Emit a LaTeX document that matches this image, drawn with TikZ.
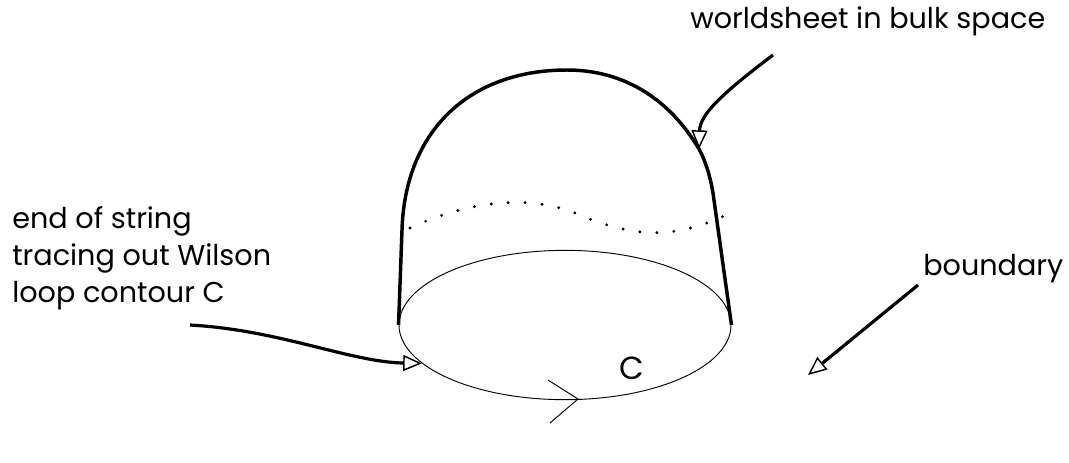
\documentclass[tikz,border=0pt]{standalone}
\usepackage{fontspec}
\setmainfont{Poppins}
\usetikzlibrary{arrows.meta,shapes.geometric,positioning}

\begin{document}
\begin{tikzpicture}[x=0.75pt,y=-0.75pt,
    txt/.style={font=\fontsize{21.5}{27.75}\selectfont, inner sep=0pt},
    sheet/.style={line width=2.6pt},
    pointer/.style={line width=2.4pt, -{Triangle[open,length=14pt,width=12pt,line width=1.1pt]}}]
    \useasboundingbox (0,0) rectangle (1069,462);

    % boundary loop C
    \node[draw, ellipse, line width=0.7pt, minimum width=249pt, minimum height=112pt, inner sep=0pt] (loop) at (565,325) {};
    \coordinate (tip) at (578,399);
    \draw[line width=0.7pt] (tip) ++(-30,-19) -- (tip) -- ++(-28,24);
    \node[font=\fontsize{24}{28}\selectfont, inner sep=0pt] (cname) at (632,368) {C};

    % worldsheet
    \coordinate (ws) at (699,149);
    \draw[sheet] (loop.west) -- (402,230) .. controls (405,130) and (470,70) .. (567,70)
        .. controls (625,70) and (670,100) .. (ws)
        .. controls (705,160) and (710,175) .. (713,193) -- (loop.east);
    \draw[line width=2.4pt, line cap=round, dash pattern=on 0pt off 12.75pt]
        (410,228) .. controls (470,200) and (530,195) .. (575,213)
        .. controls (620,232) and (665,245) .. (728,214);

    % labels
    \node[txt, anchor=base west] (wslabel) at (690,28) {worldsheet in bulk space};
    \node[txt, anchor=base west, align=left] (endlabel) at (12,302) {end of string\\tracing out Wilson\\loop contour C};
    \node[txt, anchor=base west] (bdlabel) at (923,275) {boundary};

    \coordinate (wsfrom) at (773,55);
    \coordinate (endfrom) at (190,325);
    \coordinate (bdfrom) at (918,285);
    \coordinate (bd) at (808,375);

    \draw[pointer] (wsfrom) .. controls (720,95) and (700,115) .. (ws);
    \draw[pointer] (endfrom) .. controls (280,330) and (350,362) .. (loop.195);
    \draw[pointer] (bdfrom) -- (bd);
\end{tikzpicture}
\end{document}
